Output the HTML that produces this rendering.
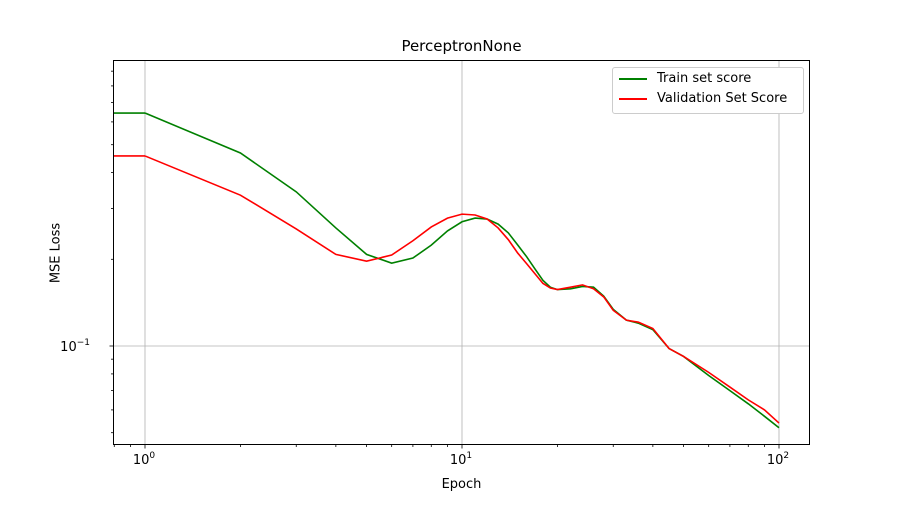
<!DOCTYPE html>
<html><head><meta charset="utf-8"><style>
body{margin:0;background:#fff;font-family:"Liberation Sans","DejaVu Sans",sans-serif}
svg text{font-family:"DejaVu Sans","Liberation Sans",sans-serif;fill:#000}
</style></head><body>
<svg id="chart" width="900" height="500"></svg>
<script>
const epochs=[1,2,3,4,5,6,7,8,9,10,11,12,13,14,15,16,17,18,19,20,22,24,26,28,30,33,36,40,45,50,60,70,80,90,100];
const trainScores=[0.644,0.468,0.343,0.257,0.208,0.194,0.202,0.224,0.251,0.270,0.278,0.276,0.265,0.247,0.224,0.204,0.185,0.169,0.160,0.157,0.158,0.161,0.160,0.149,0.134,0.123,0.120,0.114,0.098,0.092,0.079,0.070,0.063,0.057,0.052];
const valScores=[0.457,0.334,0.255,0.208,0.197,0.207,0.232,0.259,0.278,0.287,0.285,0.276,0.257,0.234,0.210,0.193,0.178,0.165,0.159,0.157,0.160,0.163,0.158,0.148,0.133,0.123,0.121,0.115,0.098,0.092,0.081,0.072,0.065,0.060,0.054];
const xMajor=[1,10,100];
const xLabels=["0","1","2"];
const NS="http://www.w3.org/2000/svg";
const svg=document.getElementById('chart');
const L=113,R=810,T=60,B=445;
const x=v=>145+317*Math.log10(v);
const y=v=>346-288*(Math.log10(v)+1);
function el(t,a,p){const e=document.createElementNS(NS,t);for(const k in a)e.setAttribute(k,a[k]);(p||svg).appendChild(e);return e;}
xMajor.forEach(v=>{const g=el('line',{x1:x(v),x2:x(v),y1:T,y2:B,stroke:'#b0b0b0','stroke-width':0.8});

});
const gy=el('line',{x1:L,x2:R,y1:y(0.1),y2:y(0.1),stroke:'#b0b0b0','stroke-width':0.8});


for(let d=-1;d<=2;d++)for(let m=1;m<10;m++){const v=m*Math.pow(10,d);const px=x(v);if(px<L||px>R)continue;
el('line',{x1:px,x2:px,y1:B,y2:B+(m==1?3.5:2),stroke:'#000','stroke-width':0.8});}
xMajor.forEach((v,i)=>{const t=el('text',{x:x(v)-1,y:B+19,'font-size':13,'text-anchor':'middle'});t.textContent='10';
const s=el('tspan',{dy:-6,'font-size':9},t);s.textContent=xLabels[i];

});
for(let d=-2;d<=0;d++)for(let m=1;m<10;m++){const v=m*Math.pow(10,d);const py=y(v);if(py<T||py>B)continue;
el('line',{x1:L,x2:L-(m==1?3.5:2),y1:py,y2:py,stroke:'#000','stroke-width':0.8});}
const yt=el('text',{x:90,y:y(0.1)+5,'font-size':13,'text-anchor':'end'});yt.textContent='10';
const ys=el('tspan',{dy:-6,'font-size':9},yt);ys.textContent='−1';


function line(vals,color,name){const p=el('polyline',{points:epochs.map((e,i)=>x(e)+','+y(vals[i])).join(' '),fill:'none',stroke:color,'stroke-width':1.6});

}
line(trainScores,'green','train-line');
line(valScores,'red','validation-line');
el('line',{x1:L,x2:x(1),y1:y(trainScores[0]),y2:y(trainScores[0]),stroke:'green','stroke-width':1.6});
el('line',{x1:L,x2:x(1),y1:y(valScores[0]),y2:y(valScores[0]),stroke:'red','stroke-width':1.6});
el('rect',{x:L+0.5,y:T+0.5,width:R-L-1,height:B-T-1,fill:'none',stroke:'#000','stroke-width':1});
</script>
<div style="position:absolute;left:0;top:0;width:900px;height:500px;pointer-events:none">
<div style="position:absolute;left:0;width:923px;top:37px;text-align:center;font-size:15px;font-family:'DejaVu Sans',sans-serif">PerceptronNone</div>
<div style="position:absolute;left:0;width:923px;top:477px;text-align:center;font-size:13px;font-family:'DejaVu Sans',sans-serif">Epoch</div>
<div style="position:absolute;left:56px;top:253px;transform:translate(-50%,-50%) rotate(-90deg);font-size:13px;white-space:nowrap;font-family:'DejaVu Sans',sans-serif">MSE Loss</div>
<div style="position:absolute;left:612px;top:67px;width:190px;height:45px;border:1px solid #ccc;border-radius:3px;background:#fff;font-size:13px;font-family:'DejaVu Sans',sans-serif">
<div style="position:absolute;left:6px;top:3px;white-space:nowrap"><span style="display:inline-block;width:28px;border-top:2px solid green;vertical-align:middle;margin-right:10px"></span>Train set score</div>
<div style="position:absolute;left:6px;top:23px;white-space:nowrap"><span style="display:inline-block;width:28px;border-top:2px solid red;vertical-align:middle;margin-right:10px"></span>Validation Set Score</div>
</div></div>
</body></html>
